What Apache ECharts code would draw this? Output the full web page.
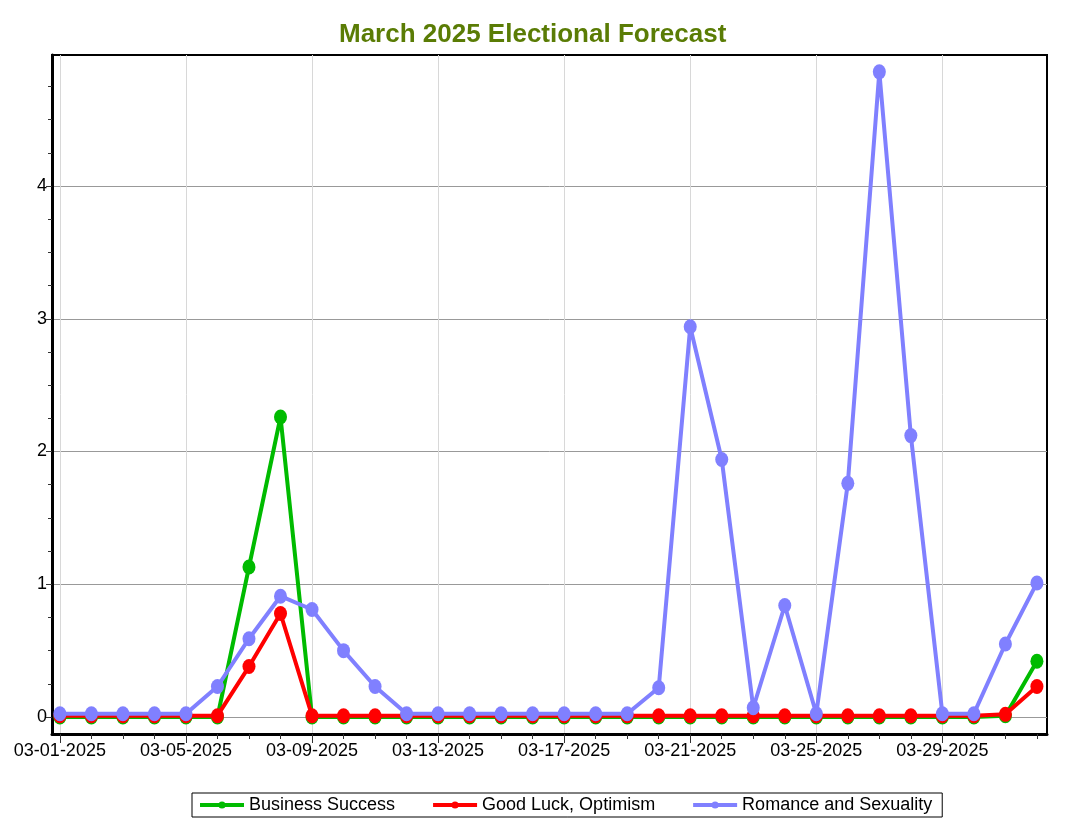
<!DOCTYPE html>
<html>
<head>
<meta charset="utf-8">
<script src="https://cdn.jsdelivr.net/npm/echarts@6/dist/echarts.min.js"></script>
<style>
html,body{margin:0;padding:0;background:#fff;}
#chart{width:1079px;height:833px;}
</style>
</head>
<body>
<div id="chart"></div>
<script>
// Day labels (03-01-2025 .. 04-01-2025), one per data point
const dayLabels = [
  '03-01-2025','03-02-2025','03-03-2025','03-04-2025','03-05-2025','03-06-2025','03-07-2025','03-08-2025',
  '03-09-2025','03-10-2025','03-11-2025','03-12-2025','03-13-2025','03-14-2025','03-15-2025','03-16-2025',
  '03-17-2025','03-18-2025','03-19-2025','03-20-2025','03-21-2025','03-22-2025','03-23-2025','03-24-2025',
  '03-25-2025','03-26-2025','03-27-2025','03-28-2025','03-29-2025','03-30-2025','03-31-2025','04-01-2025'
];
const labeledDays = [0, 4, 8, 12, 16, 20, 24, 28];
const yLabelValues = [0, 1, 2, 3, 4];
const yMinorTicks = [0,0.25,0.5,0.75,1,1.25,1.5,1.75,2,2.25,2.5,2.75,3,3.25,3.5,3.75,4,4.25,4.5,4.75];

const seriesNames = ['Business Success', 'Good Luck, Optimism', 'Romance and Sexuality'];
const business = [0,0,0,0,0,0,1.13,2.26,0,0,0,0,0,0,0,0,0,0,0,0,0,0,0,0,0,0,0,0,0,0,0.01,0.42];
const goodLuck = [0.01,0.01,0.01,0.01,0.01,0.01,0.38,0.78,0.01,0.01,0.01,0.01,0.01,0.01,0.01,0.01,0.01,0.01,0.01,0.01,0.01,0.01,0.01,0.01,0.01,0.01,0.01,0.01,0.01,0.01,0.02,0.23];
const romance = [0.025,0.025,0.025,0.025,0.025,0.23,0.59,0.91,0.81,0.50,0.23,0.025,0.025,0.025,0.025,0.025,0.025,0.025,0.025,0.22,2.94,1.94,0.07,0.84,0.025,1.76,4.86,2.12,0.025,0.025,0.55,1.01];
const seriesColors = ['#00bb00', '#ff0000', '#8080ff'];

const xMin = -0.25, xMax = 31.32;
const yMin = -0.128, yMax = 4.987;

const toPairs = arr => arr.map((v, i) => [i, v]);
const allDays = dayLabels.map((d, i) => i);

const chart = echarts.init(document.getElementById('chart'));
const font = 'Liberation Sans, Arial, sans-serif';

const option = {
  backgroundColor: '#fff',
  animation: false,
  title: {
    text: 'March 2025 Electional Forecast',
    left: 334,
    top: 17,
    textStyle: {
      fontFamily: font, fontSize: 26, fontWeight: 'bold', color: '#5a7c05',
      textShadowColor: 'rgba(40,40,100,0.8)', textShadowOffsetX: 1, textShadowOffsetY: 1, textShadowBlur: 0
    }
  },
  grid: {
    left: 52, right: 32, top: 55, bottom: 99,
    show: true, borderColor: '#000', borderWidth: 2, backgroundColor: '#fff'
  },
  legend: {
    bottom: 16, left: 192,
    data: seriesNames,
    itemWidth: 44, itemHeight: 9, itemGap: 36,
    padding: [3, 10, 3, 6],
    borderColor: '#000', borderWidth: 1, backgroundColor: '#fff',
    lineStyle: { width: 4 },
    textStyle: { fontFamily: font, fontSize: 18, color: '#000' }
  },
  xAxis: [
    {
      type: 'value', min: xMin, max: xMax, position: 'bottom',
      axisLine: { show: true, onZero: false, lineStyle: { color: '#000', width: 3 } },
      axisTick: { show: true, customValues: allDays, length: 5, lineStyle: { color: '#333', width: 1 } },
      axisLabel: { show: false },
      splitLine: { show: false }
    },
    {
      type: 'value', min: xMin, max: xMax, position: 'bottom',
      axisLine: { show: false, onZero: false },
      axisTick: { show: true, customValues: labeledDays, length: 9, lineStyle: { color: '#333', width: 1 } },
      axisLabel: {
        show: true, customValues: labeledDays, margin: 8,
        formatter: v => dayLabels[Math.round(v)],
        fontFamily: font, fontSize: 18, color: '#000'
      },
      splitLine: { show: true, lineStyle: { color: '#d8d8d8', width: 1 } }
    }
  ],
  yAxis: [
    {
      type: 'value', min: yMin, max: yMax, position: 'left',
      axisLine: { show: true, onZero: false, lineStyle: { color: '#000', width: 3 } },
      axisTick: { show: true, customValues: yLabelValues, length: 6, lineStyle: { color: '#333', width: 1 } },
      axisLabel: {
        show: true, customValues: yLabelValues, margin: 5,
        fontFamily: font, fontSize: 18, color: '#000'
      },
      splitLine: { show: true, lineStyle: { color: '#999', width: 1 } }
    },
    {
      type: 'value', min: yMin, max: yMax, position: 'left',
      axisLine: { show: false, onZero: false },
      axisTick: { show: true, customValues: yMinorTicks, length: 4, lineStyle: { color: '#333', width: 1 } },
      axisLabel: { show: false },
      splitLine: { show: false }
    }
  ],
  series: [business, goodLuck, romance].map((arr, k) => ({
    name: seriesNames[k],
    type: 'line',
    xAxisIndex: 0, yAxisIndex: 0,
    data: toPairs(arr),
    symbol: 'circle',
    symbolSize: [13, 15],
    showAllSymbol: true,
    lineStyle: { width: 4, color: seriesColors[k] },
    itemStyle: { color: seriesColors[k] },
    z: 2 + k
  }))
};
chart.setOption(option);
</script>
</body>
</html>
